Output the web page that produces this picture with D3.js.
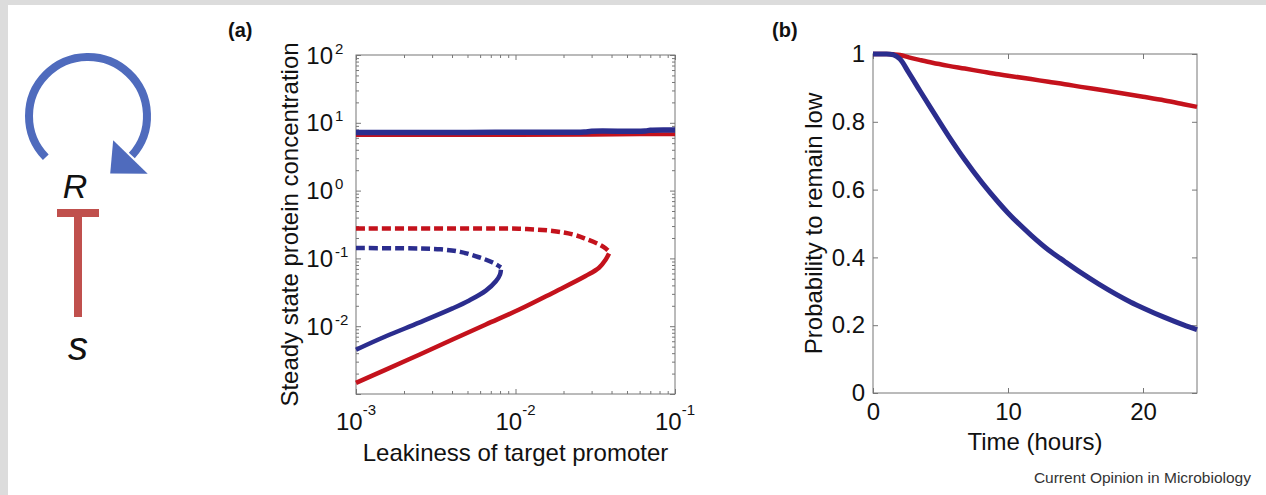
<!DOCTYPE html>
<html>
<head>
<meta charset="utf-8">
<script src="https://cdn.jsdelivr.net/npm/d3@7"></script>
<style>
body { margin: 0; background: #fff; }
svg text { font-family: "Liberation Sans", Arial, Helvetica, sans-serif; fill: #111; }
</style>
</head>
<body>
<div id="chart"></div>
<script>
// ---- panel (a): steady states vs leakiness (log-log) ----
const leakExps = [-3, -2, -1];
const concExps = [-2, -1, 0, 1, 2];

// high (stable) branch
const highBlueX = [0.001, 0.005, 0.01, 0.027, 0.03, 0.065, 0.07, 0.1];
const highBlueY = [7.2, 7.2, 7.25, 7.3, 7.5, 7.55, 7.75, 7.8];
const highRedX = [0.001, 0.01, 0.03, 0.06, 0.1];
const highRedY = [6.6, 6.6, 6.65, 6.75, 6.8];

// unstable (dashed) branch
const midRedX = [0.001, 0.003, 0.006, 0.0105, 0.0171, 0.0228, 0.0275, 0.0334, 0.0368, 0.0386];
const midRedY = [0.277, 0.277, 0.276, 0.274, 0.254, 0.226, 0.195, 0.161, 0.14, 0.126];
const midBlueX = [0.001, 0.0025, 0.0034, 0.0045, 0.0059, 0.0072, 0.0081];
const midBlueY = [0.142, 0.14, 0.136, 0.125, 0.104, 0.087, 0.074];

// low (stable) branch
const lowRedX = [0.0386, 0.0368, 0.0334, 0.0275, 0.0171, 0.01055, 0.00652, 0.00403, 0.00249, 0.00154, 0.001];
const lowRedY = [0.118, 0.0966, 0.0728, 0.055, 0.031, 0.0176, 0.0106, 0.00635, 0.0038, 0.00229, 0.00146];
const lowBlueX = [0.0081, 0.008, 0.00753, 0.00652, 0.00513, 0.00403, 0.00249, 0.00154, 0.001];
const lowBlueY = [0.068, 0.058, 0.046, 0.0335, 0.024, 0.0183, 0.0113, 0.0071, 0.0045];

// ---- panel (b): probability to remain low ----
const hours = [0, 1, 1.5, 2, 2.65, 3.5, 4.4, 5.6, 6.8, 8.1, 9.3, 10, 11.7, 13, 14.2, 15.4, 16.7, 19.1, 20, 21.6, 23, 24];
const probBlue = [1, 1, 0.998, 0.985, 0.945, 0.89, 0.833, 0.758, 0.688, 0.619, 0.562, 0.531, 0.466, 0.422, 0.388, 0.355, 0.322, 0.268, 0.251, 0.223, 0.201, 0.187];
const probRed = [1, 1, 0.999, 0.997, 0.99, 0.982, 0.974, 0.965, 0.957, 0.948, 0.94, 0.936, 0.926, 0.918, 0.911, 0.903, 0.895, 0.88, 0.874, 0.863, 0.852, 0.844];
const probTicks = [0, 0.2, 0.4, 0.6, 0.8, 1];
const hourTicks = [0, 10, 20];

const RED = '#c4121c';
const BLUE = '#2b2d8e';
const FRAME = '#777';

const width = 1266, height = 495;
const svg = d3.select('#chart').append('svg')
	.attr('width', width)
	.attr('height', height);

svg.append('rect').attr('width', width).attr('height', height).attr('fill', '#fff');
// grey page border
svg.append('rect').attr('width', width).attr('height', 5).attr('fill', '#dcdcdc');
svg.append('rect').attr('width', 8).attr('height', height).attr('fill', '#dcdcdc');

// ---- schematic on the left ----
const loop = { cx: 88, cy: 116, r: 59, start: 225.7, end: 492 };
const rad = a => a * Math.PI / 180;
const arcPath = d3.path();
arcPath.arc(loop.cx, loop.cy, loop.r, rad(loop.start - 90), rad(loop.end - 90), false);
svg.append('path')
	.attr('d', arcPath.toString())
	.attr('fill', 'none')
	.attr('stroke', '#4f6bbd')
	.attr('stroke-width', 8);

// arrow head at end of loop
const endA = rad(loop.end + 2);
const ex = loop.cx + loop.r * Math.sin(endA), ey = loop.cy - loop.r * Math.cos(endA);
const radial = [Math.sin(endA), -Math.cos(endA)];
const tangent = [Math.cos(endA), Math.sin(endA)];
const head = [
	[ex - 24 * radial[0], ey - 24 * radial[1]],
	[ex + 24 * radial[0], ey + 24 * radial[1]],
	[ex + 26 * tangent[0] - 3 * radial[0], ey + 26 * tangent[1] - 3 * radial[1]]
];
svg.append('path')
	.attr('d', 'M' + head.map(p => p.join(',')).join('L') + 'Z')
	.attr('fill', '#4f6bbd');

svg.append('text').attr('x', 75).attr('y', 198)
	.attr('text-anchor', 'middle').attr('font-style', 'italic').attr('font-size', 34)
	.text('R');

svg.append('rect').attr('x', 57).attr('y', 209).attr('width', 42).attr('height', 8).attr('fill', '#c0504d');
svg.append('rect').attr('x', 74).attr('y', 209).attr('width', 8).attr('height', 108).attr('fill', '#c0504d');

svg.append('text').attr('x', 78).attr('y', 360)
	.attr('text-anchor', 'middle').attr('font-style', 'italic').attr('font-size', 40)
	.text('s');

// ---- panel (a) ----
const boxA = { left: 356, right: 675, top: 55, bottom: 394 };
const xA = d3.scaleLog().domain([1e-3, 1e-1]).range([boxA.left, boxA.right]);
const yA = d3.scaleLog().domain([1e-3, 1e2]).range([boxA.bottom, boxA.top]);

const gA = svg.append('g');

const isMajor = v => Math.abs(Math.log10(v) - Math.round(Math.log10(v))) < 1e-9;

function logTicks(axisFn, scale, transform) {
	const vals = scale.ticks();
	const minor = vals.filter(v => !isMajor(v));
	const major = vals.filter(isMajor);
	[[minor, 3], [major, 5]].forEach(([tv, len]) => {
		gA.append('g')
			.attr('transform', transform)
			.call(axisFn(scale).tickValues(tv).tickSize(-len).tickSizeOuter(0).tickFormat(''))
			.call(g => g.select('.domain').remove())
			.call(g => g.selectAll('line').attr('stroke', FRAME));
	});
}
logTicks(d3.axisLeft, yA, `translate(${boxA.left},0)`);
logTicks(d3.axisRight, yA, `translate(${boxA.right},0)`);
logTicks(d3.axisBottom, xA, `translate(0,${boxA.bottom})`);
logTicks(d3.axisTop, xA, `translate(0,${boxA.top})`);

gA.append('rect')
	.attr('x', boxA.left).attr('y', boxA.top)
	.attr('width', boxA.right - boxA.left).attr('height', boxA.bottom - boxA.top)
	.attr('fill', 'none').attr('stroke', FRAME).attr('stroke-width', 1);

const lineA = d3.line()
	.x(d => xA(d[0]))
	.y(d => yA(d[1]))
	.curve(d3.curveCatmullRom);

const zipXY = (xs, ys) => xs.map((x, i) => [x, ys[i]]);

const curvesA = [
	{ xs: highRedX, ys: highRedY, color: RED, w: 4, dash: null },
	{ xs: highBlueX, ys: highBlueY, color: BLUE, w: 5.5, dash: null },
	{ xs: midRedX, ys: midRedY, color: RED, w: 4.5, dash: '9,4' },
	{ xs: midBlueX, ys: midBlueY, color: BLUE, w: 4.5, dash: '9,4' },
	{ xs: lowRedX, ys: lowRedY, color: RED, w: 4.5, dash: null },
	{ xs: lowBlueX, ys: lowBlueY, color: BLUE, w: 4.5, dash: null }
];
curvesA.forEach(c => {
	gA.append('path')
		.attr('d', lineA(zipXY(c.xs, c.ys)))
		.attr('fill', 'none')
		.attr('stroke', c.color)
		.attr('stroke-width', c.w)
		.attr('stroke-dasharray', c.dash);
});

// tick labels as 10 with superscript
leakExps.forEach(e => {
	const t = gA.append('text')
		.attr('x', xA(Math.pow(10, e)))
		.attr('y', 430)
		.attr('text-anchor', 'middle')
		.attr('font-size', 24);
	t.append('tspan').text('10');
	t.append('tspan').attr('dy', -15).attr('font-size', 15).text(e);
});
concExps.forEach(e => {
	const y = yA(Math.pow(10, e));
	gA.append('text')
		.attr('x', boxA.left - 23).attr('y', y + 8.6)
		.attr('text-anchor', 'end').attr('font-size', 24)
		.text('10');
	gA.append('text')
		.attr('x', boxA.left - 21).attr('y', y - 1.5)
		.attr('text-anchor', 'start').attr('font-size', 15)
		.text(e);
});

gA.append('text')
	.attr('x', (boxA.left + boxA.right) / 2).attr('y', 461)
	.attr('text-anchor', 'middle').attr('font-size', 24)
	.text('Leakiness of target promoter');

gA.append('text')
	.attr('transform', `translate(298,${(boxA.top + boxA.bottom) / 2}) rotate(-90)`)
	.attr('text-anchor', 'middle').attr('font-size', 24)
	.text('Steady state protein concentration');

svg.append('text').attr('x', 228).attr('y', 37)
	.attr('font-weight', 'bold').attr('font-size', 20)
	.text('(a)');

// ---- panel (b) ----
const boxB = { left: 873, right: 1197, top: 54, bottom: 393 };
const xB = d3.scaleLinear().domain([0, 24]).range([boxB.left, boxB.right]);
const yB = d3.scaleLinear().domain([0, 1]).range([boxB.bottom, boxB.top]);

const gB = svg.append('g');

const styleAxis = g => {
	g.select('.domain').remove();
	g.selectAll('line').attr('stroke', FRAME);
	g.selectAll('text').attr('font-size', 24).attr('font-family', null).attr('fill', '#111');
};

gB.append('g').attr('transform', `translate(${boxB.left},0)`)
	.call(d3.axisLeft(yB).tickValues(probTicks).tickSize(-5).tickSizeOuter(0).tickPadding(8).tickFormat(d => String(d)))
	.call(styleAxis);
gB.append('g').attr('transform', `translate(${boxB.right},0)`)
	.call(d3.axisRight(yB).tickValues(probTicks).tickSize(-5).tickSizeOuter(0).tickFormat(''))
	.call(styleAxis);
gB.append('g').attr('transform', `translate(0,${boxB.bottom})`)
	.call(d3.axisBottom(xB).tickValues(hourTicks).tickSize(-5).tickSizeOuter(0).tickPadding(10).tickFormat(d => String(d)))
	.call(styleAxis);
gB.append('g').attr('transform', `translate(0,${boxB.top})`)
	.call(d3.axisTop(xB).tickValues(hourTicks).tickSize(-5).tickSizeOuter(0).tickFormat(''))
	.call(styleAxis);

gB.append('rect')
	.attr('x', boxB.left).attr('y', boxB.top)
	.attr('width', boxB.right - boxB.left).attr('height', boxB.bottom - boxB.top)
	.attr('fill', 'none').attr('stroke', FRAME).attr('stroke-width', 1);

const lineB = d3.line()
	.x((d, i) => xB(hours[i]))
	.y(d => yB(d))
	.curve(d3.curveMonotoneX);

gB.append('path').attr('d', lineB(probRed))
	.attr('fill', 'none').attr('stroke', RED).attr('stroke-width', 4.5);
gB.append('path').attr('d', lineB(probBlue))
	.attr('fill', 'none').attr('stroke', BLUE).attr('stroke-width', 5);

gB.append('text')
	.attr('x', (boxB.left + boxB.right) / 2).attr('y', 450)
	.attr('text-anchor', 'middle').attr('font-size', 24)
	.text('Time (hours)');

gB.append('text')
	.attr('transform', `translate(822,${(boxB.top + boxB.bottom) / 2}) rotate(-90)`)
	.attr('text-anchor', 'middle').attr('font-size', 24)
	.text('Probability to remain low');

svg.append('text').attr('x', 772).attr('y', 37)
	.attr('font-weight', 'bold').attr('font-size', 20)
	.text('(b)');

svg.append('text').attr('x', 1251).attr('y', 483)
	.attr('text-anchor', 'end').attr('font-size', 15.5)
	.style('fill', '#333')
	.text('Current Opinion in Microbiology');
</script>
</body>
</html>
